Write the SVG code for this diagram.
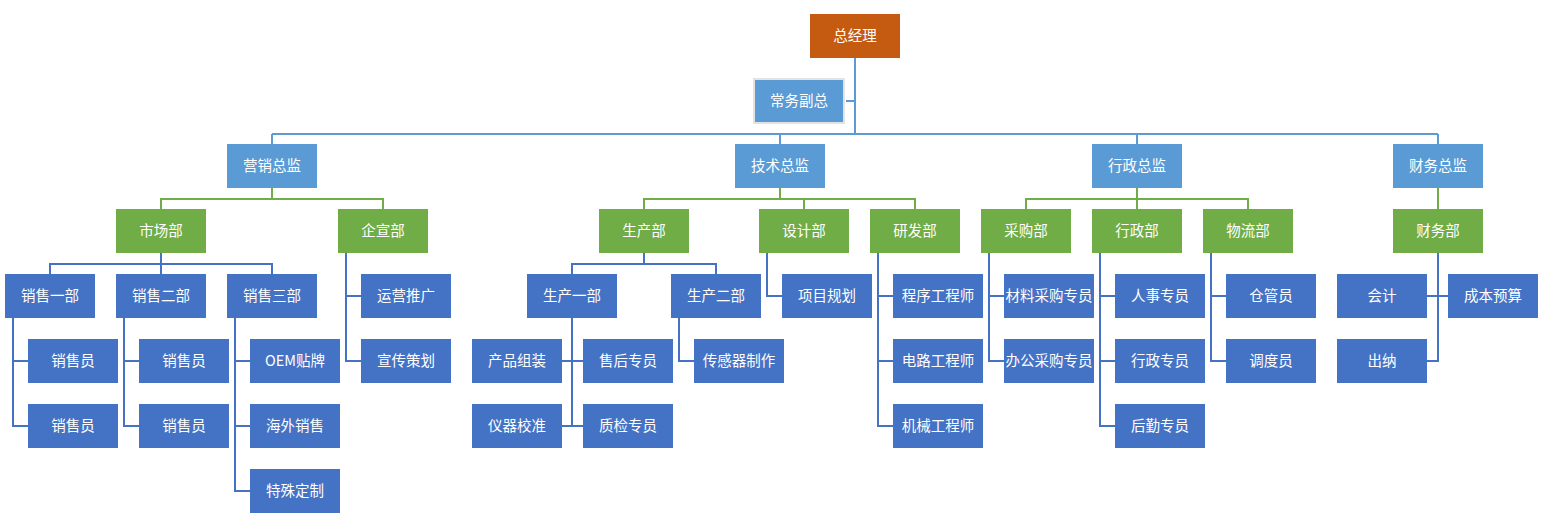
<svg xmlns="http://www.w3.org/2000/svg" width="1544" height="518" viewBox="0 0 1544 518">
<style>
text{font-family:"Microsoft YaHei","Noto Sans CJK SC","Noto Sans",sans-serif;font-size:14.5px;fill:#fff;text-anchor:middle;dominant-baseline:central;transform:translateY(-1.5px)}
.ceo{fill:#C55A11}
.dir{fill:#5B9BD5}
.dept{fill:#70AD47}
.leaf{fill:#4472C4}
.c1,.c2,.c3{fill:none;stroke-width:2}
.c1{stroke:#5B9BD5}
.c2{stroke:#70AD47}
.c3{stroke:#4472C4}
</style>
<rect width="1544" height="518" fill="#fff"/>
<g id="connectors">
<path class="c1" d="M855 58V134M846 101H855M272 134H1438M272 134V144M780 134V144M1137 134V144M1438 134V144"/>
<path class="c2" d="M272 188V199M161 209V199H383V209M780 188V199M644 209V199H915V209M804 199V209M1137 188V199M1026 209V199H1248V209M1137 199V209M1438 188V209"/>
<path class="c3" d="M161 253V264M50 274V264H272V274M161 264V274M346 253V361H361M346 296H361M13 318V426H28M13 361H28M124 318V426H139M124 361H139M235 318V491H250M235 361H250M235 426H250M644 253V264M572 274V264H716V274M572 318V426M562 361H583M562 426H583M679 318V361H694M767 253V296H782M878 253V426H893M878 296H893M878 361H893M989 253V361H1004M989 296H1004M1100 253V426H1115M1100 296H1115M1100 361H1115M1211 253V361H1226M1211 296H1226M1438 253V361H1427M1427 296H1448"/>
</g>
<g id="n-ceo"><rect class="ceo" x="810" y="14" width="90" height="44"/><text x="855" y="36">总经理</text></g>
<g id="n-vp"><rect class="dir" x="754" y="79" width="90" height="44" stroke="#E3E3E3" stroke-width="2"/><text x="799" y="101">常务副总</text></g>
<g id="n-mkt"><rect class="dir" x="227" y="144" width="90" height="44"/><text x="272" y="166">营销总监</text></g>
<g id="n-tech"><rect class="dir" x="735" y="144" width="90" height="44"/><text x="780" y="166">技术总监</text></g>
<g id="n-admin"><rect class="dir" x="1092" y="144" width="90" height="44"/><text x="1137" y="166">行政总监</text></g>
<g id="n-fin"><rect class="dir" x="1393" y="144" width="90" height="44"/><text x="1438" y="166">财务总监</text></g>
<g id="n-market"><rect class="dept" x="116" y="209" width="90" height="44"/><text x="161" y="231">市场部</text></g>
<g id="n-pr"><rect class="dept" x="338" y="209" width="90" height="44"/><text x="383" y="231">企宣部</text></g>
<g id="n-prod"><rect class="dept" x="599" y="209" width="90" height="44"/><text x="644" y="231">生产部</text></g>
<g id="n-design"><rect class="dept" x="759" y="209" width="90" height="44"/><text x="804" y="231">设计部</text></g>
<g id="n-rd"><rect class="dept" x="870" y="209" width="90" height="44"/><text x="915" y="231">研发部</text></g>
<g id="n-purch"><rect class="dept" x="981" y="209" width="90" height="44"/><text x="1026" y="231">采购部</text></g>
<g id="n-admdept"><rect class="dept" x="1092" y="209" width="90" height="44"/><text x="1137" y="231">行政部</text></g>
<g id="n-logi"><rect class="dept" x="1203" y="209" width="90" height="44"/><text x="1248" y="231">物流部</text></g>
<g id="n-findept"><rect class="dept" x="1393" y="209" width="90" height="44"/><text x="1438" y="231">财务部</text></g>
<g id="n-s1"><rect class="leaf" x="5" y="274" width="90" height="44"/><text x="50" y="296">销售一部</text></g>
<g id="n-s2"><rect class="leaf" x="116" y="274" width="90" height="44"/><text x="161" y="296">销售二部</text></g>
<g id="n-s3"><rect class="leaf" x="227" y="274" width="90" height="44"/><text x="272" y="296">销售三部</text></g>
<g id="n-s1a"><rect class="leaf" x="28" y="339" width="90" height="44"/><text x="73" y="361">销售员</text></g>
<g id="n-s1b"><rect class="leaf" x="28" y="404" width="90" height="44"/><text x="73" y="426">销售员</text></g>
<g id="n-s2a"><rect class="leaf" x="139" y="339" width="90" height="44"/><text x="184" y="361">销售员</text></g>
<g id="n-s2b"><rect class="leaf" x="139" y="404" width="90" height="44"/><text x="184" y="426">销售员</text></g>
<g id="n-s3a"><rect class="leaf" x="250" y="339" width="90" height="44"/><text x="295" y="361">OEM贴牌</text></g>
<g id="n-s3b"><rect class="leaf" x="250" y="404" width="90" height="44"/><text x="295" y="426">海外销售</text></g>
<g id="n-s3c"><rect class="leaf" x="250" y="469" width="90" height="44"/><text x="295" y="491">特殊定制</text></g>
<g id="n-pr1"><rect class="leaf" x="361" y="274" width="90" height="44"/><text x="406" y="296">运营推广</text></g>
<g id="n-pr2"><rect class="leaf" x="361" y="339" width="90" height="44"/><text x="406" y="361">宣传策划</text></g>
<g id="n-p1"><rect class="leaf" x="527" y="274" width="90" height="44"/><text x="572" y="296">生产一部</text></g>
<g id="n-p2"><rect class="leaf" x="671" y="274" width="90" height="44"/><text x="716" y="296">生产二部</text></g>
<g id="n-p1a"><rect class="leaf" x="472" y="339" width="90" height="44"/><text x="517" y="361">产品组装</text></g>
<g id="n-p1b"><rect class="leaf" x="472" y="404" width="90" height="44"/><text x="517" y="426">仪器校准</text></g>
<g id="n-p1c"><rect class="leaf" x="583" y="339" width="90" height="44"/><text x="628" y="361">售后专员</text></g>
<g id="n-p1d"><rect class="leaf" x="583" y="404" width="90" height="44"/><text x="628" y="426">质检专员</text></g>
<g id="n-p2a"><rect class="leaf" x="694" y="339" width="90" height="44"/><text x="739" y="361">传感器制作</text></g>
<g id="n-d1"><rect class="leaf" x="782" y="274" width="90" height="44"/><text x="827" y="296">项目规划</text></g>
<g id="n-r1"><rect class="leaf" x="893" y="274" width="90" height="44"/><text x="938" y="296">程序工程师</text></g>
<g id="n-r2"><rect class="leaf" x="893" y="339" width="90" height="44"/><text x="938" y="361">电路工程师</text></g>
<g id="n-r3"><rect class="leaf" x="893" y="404" width="90" height="44"/><text x="938" y="426">机械工程师</text></g>
<g id="n-c1"><rect class="leaf" x="1004" y="274" width="90" height="44"/><text x="1049" y="296">材料采购专员</text></g>
<g id="n-c2"><rect class="leaf" x="1004" y="339" width="90" height="44"/><text x="1049" y="361">办公采购专员</text></g>
<g id="n-a1"><rect class="leaf" x="1115" y="274" width="90" height="44"/><text x="1160" y="296">人事专员</text></g>
<g id="n-a2"><rect class="leaf" x="1115" y="339" width="90" height="44"/><text x="1160" y="361">行政专员</text></g>
<g id="n-a3"><rect class="leaf" x="1115" y="404" width="90" height="44"/><text x="1160" y="426">后勤专员</text></g>
<g id="n-l1"><rect class="leaf" x="1226" y="274" width="90" height="44"/><text x="1271" y="296">仓管员</text></g>
<g id="n-l2"><rect class="leaf" x="1226" y="339" width="90" height="44"/><text x="1271" y="361">调度员</text></g>
<g id="n-f1"><rect class="leaf" x="1337" y="274" width="90" height="44"/><text x="1382" y="296">会计</text></g>
<g id="n-f2"><rect class="leaf" x="1448" y="274" width="90" height="44"/><text x="1493" y="296">成本预算</text></g>
<g id="n-f3"><rect class="leaf" x="1337" y="339" width="90" height="44"/><text x="1382" y="361">出纳</text></g>
</svg>
